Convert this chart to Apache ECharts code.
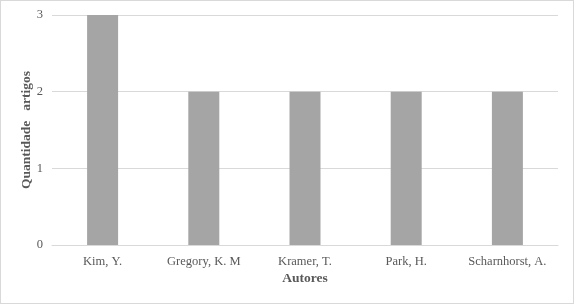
<!DOCTYPE html>
<html><head><meta charset="utf-8">
<script src="https://cdn.jsdelivr.net/npm/echarts@6/dist/echarts.min.js"></script>
<style>
html,body{margin:0;padding:0;background:#fff;}
#c{position:absolute;left:0;top:0;width:572px;height:302px;border:1px solid #d9d9d9;}
</style></head><body>
<div id="c"></div>
<script>
const categories = ["Kim, Y.", "Gregory, K. M", "Kramer, T.", "Park, H.", "Scharnhorst, A."];
const values = [3, 2, 2, 2, 2];
const yTicks = [0, 1, 2, 3];

const chart = echarts.init(document.getElementById('c'));
const font = '"Liberation Serif", "Times New Roman", serif';
chart.setOption({
  animation: false,
  grid: {left: 51, right: 15, top: 14, bottom: 58},
  xAxis: {
    type: 'category', data: categories,
    name: 'Autores', nameLocation: 'middle', nameGap: 27, nameMoveOverlap: false,
    nameTextStyle: {fontFamily: font, fontSize: 13.5, fontWeight: 'bold', color: '#595959'},
    axisLine: {lineStyle: {color: '#d9d9d9'}},
    axisTick: {show: false},
    axisLabel: {fontFamily: font, fontSize: 12.5, color: '#595959', margin: 10, interval: 0, hideOverlap: false}
  },
  yAxis: {
    type: 'value', min: yTicks[0], max: yTicks[yTicks.length-1], interval: 1,
    name: 'Quantidade   artigos', nameLocation: 'middle', nameGap: 18, nameMoveOverlap: false,
    nameTextStyle: {fontFamily: font, fontSize: 13.5, fontWeight: 'bold', color: '#595959'},
    axisLine: {show: false}, axisTick: {show: false},
    splitLine: {lineStyle: {color: '#d9d9d9'}},
    axisLabel: {fontFamily: font, fontSize: 12.5, color: '#595959', margin: 9}
  },
  series: [{type: 'bar', data: values, barWidth: 31, itemStyle: {color: '#a5a5a5'}}]
});
</script></body></html>
